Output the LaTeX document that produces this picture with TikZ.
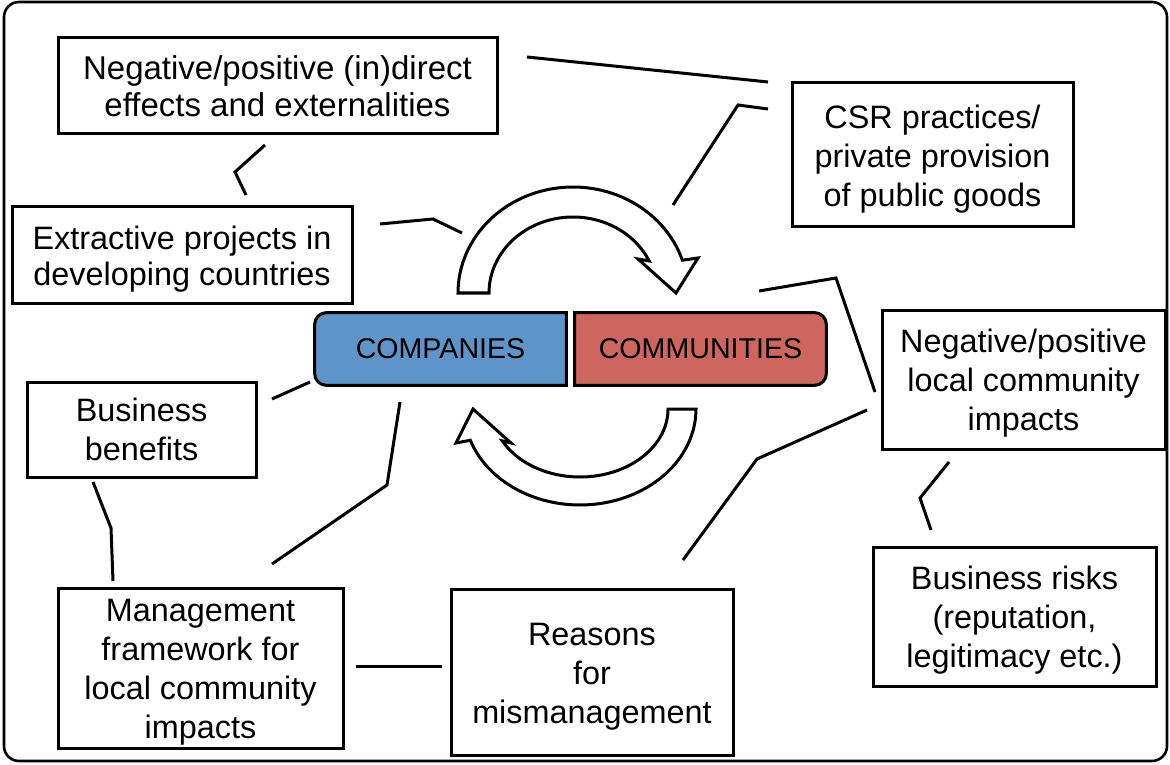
\documentclass[tikz,border=0pt]{standalone}
\usepackage{fontspec}
\setmainfont{Liberation Sans}
\usetikzlibrary{backgrounds}
\definecolor{compblue}{HTML}{5F94C9}
\definecolor{commred}{HTML}{CD665F}
\newcommand{\topstrut}{\rule{0pt}{15.8pt}}
\begin{document}
\begin{tikzpicture}[x=0.5pt,y=-0.5pt,
  box/.style={draw, line width=1.5pt, align=center, inner sep=0pt,
    font=\fontsize{16.2}{19.5}\selectfont},
  midbox/.style={inner sep=0pt, minimum width=125.5pt, minimum height=36pt,
    font=\fontsize{14.3}{17}\selectfont},
  conn/.style={line width=1.5pt},
  bigarrow/.style={line width=1.5pt, fill=white, line join=miter}
]
\useasboundingbox (0,0) rectangle (1170,764);
\draw[line width=1.3pt, rounded corners=7.5pt] (4,2) rectangle (1167,761);

% boxes
\node[box, minimum width=219.5pt, minimum height=48pt,
  font=\fontsize{16.5}{18.5}\selectfont] (neff) at (277.5,86)
  {Negative/positive (in)direct\\effects and externalities};
\node[box, minimum width=170pt, minimum height=48pt,
  font=\fontsize{16.2}{18}\selectfont] (extr) at (182,255)
  {\topstrut Extractive projects in\\developing countries};
\node[box, minimum width=140.5pt, minimum height=72pt] (csr) at (932.5,155)
  {\topstrut CSR practices/\\private provision\\of public goods};
\node[box, minimum width=141.5pt, minimum height=69.5pt] (impact) at (1023.5,379.5)
  {\topstrut Negative/positive\\local community\\impacts};
\node[box, minimum width=114.5pt, minimum height=47.5pt] (benef) at (141.5,429.5)
  {Business\\benefits};
\node[box, minimum width=141.5pt, minimum height=69.5pt] (risk) at (1014.5,616.5)
  {\topstrut Business risks\\(reputation,\\legitimacy etc.)};
\node[box, minimum width=142.5pt, minimum height=80pt] (mgmt) at (200.5,668)
  {\topstrut Management\\framework for\\local community\\impacts};
\node[box, minimum width=141pt, minimum height=83pt] (reason) at (592,672)
  {\topstrut Reasons\\for\\mismanagement};

% central boxes
\node[midbox] (comp) at (440.5,349) {COMPANIES};
\node[midbox] (comm) at (700.5,349) {COMMUNITIES};
\begin{scope}[on background layer]
\draw[line width=1.5pt, fill=compblue] (comp.north east)
  -- ([xshift=6pt]comp.north west) arc[start angle=90, end angle=180, radius=6pt]
  -- ([yshift=6pt]comp.south west) arc[start angle=180, end angle=270, radius=6pt]
  -- (comp.south east) -- cycle;
\draw[line width=1.5pt, fill=commred] (comm.north west)
  -- ([xshift=-6pt]comm.north east) arc[start angle=90, end angle=0, radius=6pt]
  -- ([yshift=6pt]comm.south east) arc[start angle=0, end angle=-90, radius=6pt]
  -- (comm.south west) -- cycle;
\end{scope}

% circular arrows
\draw[bigarrow] (458,293)
  -- plot[domain=180:18, samples=60] ({573+115*cos(\x)},{293-106*sin(\x)})
  -- (698,258) -- (676,293) -- (638,259)
  -- plot[domain=25:180, samples=60] ({573+84*cos(\x)},{293-76*sin(\x)})
  -- cycle;
\draw[bigarrow] (696,409)
  -- plot[domain=0:-161, samples=60] ({580+116*cos(\x)},{409-96*sin(\x)})
  -- (456,443) -- (473,409) -- (511,443)
  -- plot[domain=-152:0, samples=60] ({580+88*cos(\x)},{409-68*sin(\x)})
  -- cycle;

% connector points
\coordinate (a1) at (527,57);  \coordinate (a2) at (768,82);
\coordinate (b1) at (673,205); \coordinate (b2) at (738,105); \coordinate (b3) at (768,109);
\coordinate (c1) at (265,145); \coordinate (c2) at (235,172); \coordinate (c3) at (246,195);
\coordinate (d1) at (380,224); \coordinate (d2) at (433,219); \coordinate (d3) at (462,233);
\coordinate (e1) at (759,291); \coordinate (e2) at (836,278); \coordinate (e3) at (875,392);
\coordinate (f1) at (272,399); \coordinate (f2) at (310,382);
\coordinate (g1) at (400,402); \coordinate (g2) at (387,485); \coordinate (g3) at (272,564);
\coordinate (h1) at (93,482);  \coordinate (h2) at (111,528); \coordinate (h3) at (113,581);
\coordinate (i1) at (867,410); \coordinate (i2) at (757,459); \coordinate (i3) at (683,560);
\coordinate (j1) at (356,666); \coordinate (j2) at (442,666);
\coordinate (k1) at (949,462); \coordinate (k2) at (920,498); \coordinate (k3) at (931,530);

\draw[conn] (a1) -- (a2);
\draw[conn] (b1) -- (b2) -- (b3);
\draw[conn] (c1) -- (c2) -- (c3);
\draw[conn] (d1) -- (d2) -- (d3);
\draw[conn] (e1) -- (e2) -- (e3);
\draw[conn] (f1) -- (f2);
\draw[conn] (g1) -- (g2) -- (g3);
\draw[conn] (h1) -- (h2) -- (h3);
\draw[conn] (i1) -- (i2) -- (i3);
\draw[conn] (j1) -- (j2);
\draw[conn] (k1) -- (k2) -- (k3);
\end{tikzpicture}
\end{document}
